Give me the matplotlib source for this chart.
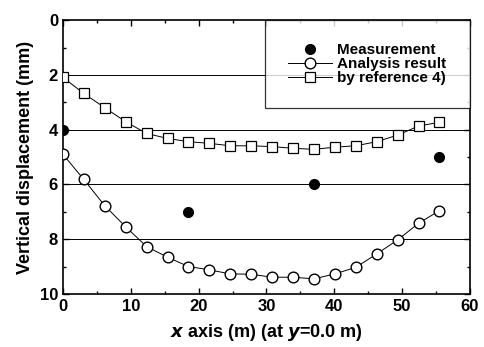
import matplotlib.pyplot as plt
from matplotlib.ticker import MultipleLocator

plt.rcParams['font.family'] = ['Liberation Sans', 'DejaVu Sans']
plt.rcParams['font.weight'] = 'bold'

# measurement points
meas_x = [0, 18.5, 37.0, 55.5]
meas_y = [4.0, 7.0, 6.0, 5.0]

# analysis result
ana_x = [0, 3.08, 6.17, 9.25, 12.33, 15.42, 18.5, 21.58, 24.67, 27.75,
         30.83, 33.92, 37.0, 40.08, 43.17, 46.25, 49.33, 52.42, 55.5]
ana_y = [4.9, 5.82, 6.78, 7.55, 8.27, 8.66, 9.0, 9.12, 9.27, 9.28,
         9.39, 9.39, 9.45, 9.27, 9.03, 8.54, 8.03, 7.42, 6.96]

# by reference 4)
ref_x = ana_x
ref_y = [2.09, 2.68, 3.2, 3.71, 4.14, 4.32, 4.44, 4.5, 4.59, 4.59,
         4.62, 4.68, 4.72, 4.64, 4.59, 4.44, 4.2, 3.87, 3.73]

fig = plt.figure(figsize=(4.84, 3.47), dpi=100)
ax = fig.add_axes([0.130, 0.153, 0.841, 0.789])

for g in [2, 4, 6, 8]:
    ax.axhline(g, color='black', lw=0.7, zorder=1)

ax.plot(meas_x, meas_y, 'o', color='black', ms=7, ls='none', label='Measurement', zorder=3)
ax.plot(ana_x, ana_y, '-o', color='black', mfc='white', mec='black', ms=7.7,
        lw=0.7, mew=1.0, label='Analysis result', zorder=3)
ax.plot(ref_x, ref_y, '-s', color='black', mfc='white', mec='black', ms=6.5,
        lw=0.7, mew=0.9, label='by reference 4)', zorder=3)

ax.set_xlim(0, 60)
ax.set_ylim(10, 0)
ax.xaxis.set_major_locator(MultipleLocator(10))
ax.xaxis.set_minor_locator(MultipleLocator(5))
ax.yaxis.set_major_locator(MultipleLocator(2))
ax.yaxis.set_minor_locator(MultipleLocator(1))
ax.tick_params(which='both', direction='in', top=True, right=True, labelsize=12, width=1.0)
ax.tick_params(which='major', length=4)
ax.tick_params(which='minor', length=2)
for lab in ax.get_xticklabels() + ax.get_yticklabels():
    lab.set_fontweight('bold')
for s in ax.spines.values():
    s.set_linewidth(1.2)

ax.set_ylabel('Vertical displacement (mm)', fontsize=13, fontweight='bold', labelpad=4)
ax.set_xlabel(r'$\mathbf{\it{x}}$ axis (m) (at $\mathbf{\it{y}}$=0.0 m)', fontsize=13,
              fontweight='bold', labelpad=6)

leg = ax.legend(loc='upper right', bbox_to_anchor=(0.496, 0.0, 0.504, 1.0),
                mode='expand', fontsize=11, frameon=True, fancybox=False,
                edgecolor='black', borderaxespad=0.0, handlelength=2.9,
                handletextpad=0.3, borderpad=1.5, labelspacing=0.0)
leg.get_frame().set_linewidth(0.9)
for t in leg.get_texts():
    t.set_fontweight('bold')

fig.savefig('out.png', dpi=100)
